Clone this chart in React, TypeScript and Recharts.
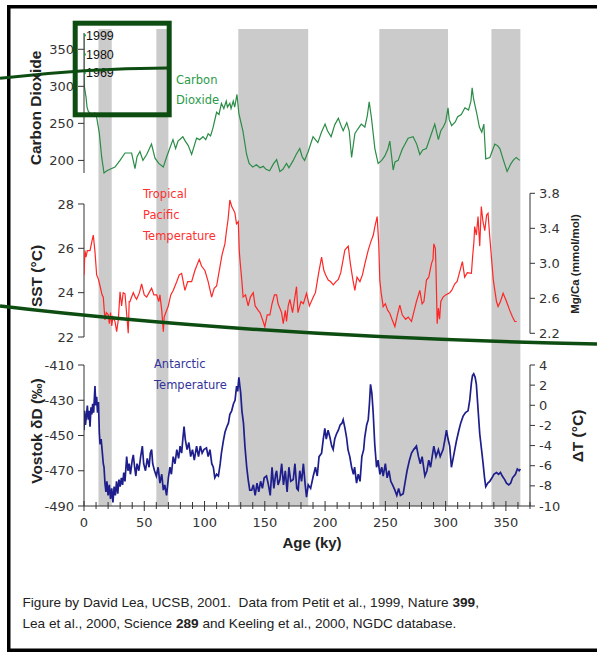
import React from "react";
import {
  LineChart,
  Line,
  XAxis,
  YAxis,
  ReferenceArea,
  ReferenceLine,
  LabelList,
} from "recharts";

// glacial periods, ky before present
const bandFrom = [12, 60, 128, 245, 338];
const bandTo = [23, 70, 186, 302, 362];

const ageTicks = [
  0, 10, 20, 30, 40, 50, 60, 70, 80, 90, 100, 110, 120, 130, 140, 150, 160, 170,
  180, 190, 200, 210, 220, 230, 240, 250, 260, 270, 280, 290, 300, 310, 320, 330,
  340, 350, 360, 370,
];
const co2Ticks = [200, 250, 300, 350];
const sstTicks = [22, 24, 26, 28];
const mgcaTicks = [2.2, 2.6, 3.0, 3.4, 3.8];
const dDTicks = [-490, -470, -450, -430, -410];
const dTTicks = [-10, -8, -6, -4, -2, 0, 2, 4];

// Keeling measurements plotted at age 0
const modernYears = ["1999", "1980", "1969"];
const modernCo2 = [369, 343, 318];

// Vostok CO2 (ky, ppmv)
const co2Record: [number, number][] = [
  [0.3, 300], [1.7, 285], [2.5, 272], [3.6, 266], [6, 262], [9, 264], [10.5, 258],
  [12.7, 237], [14.7, 204], [16.6, 183], [19, 186], [21.6, 188], [25.7, 191],
  [29.9, 200], [34, 210], [39.5, 210], [42.3, 189], [44, 205], [46.4, 212],
  [48.9, 200], [52, 208], [56, 222], [58.9, 203], [62, 196], [65.8, 191],
  [68.6, 205], [73.8, 228], [76, 216], [78, 226], [82, 232], [84, 226],
  [86.5, 220], [89.3, 208], [93.4, 230], [96, 228], [98.7, 232], [101, 228],
  [103, 236], [105, 233], [107, 244], [110, 265], [112, 262], [114, 277],
  [116, 270], [118, 280], [119, 272], [121, 277], [122, 270], [123.8, 280],
  [125, 272], [126.9, 289], [128.5, 263], [131.8, 240], [134.9, 208], [137, 196],
  [140, 191], [143, 194], [146, 190], [148.7, 192], [151, 188], [154, 186],
  [157, 195], [159.8, 201], [162.5, 185], [165, 188], [168, 196], [170, 190],
  [173.6, 200], [176, 208], [179, 216], [181, 205], [183, 200], [186, 212],
  [190, 232], [192, 228], [194, 224], [197, 238], [200, 249], [202, 240],
  [205, 232], [208, 248], [211, 257], [213, 248], [215, 240], [218, 251],
  [220, 240], [222, 204], [224.7, 236], [227, 242], [230, 249], [233, 245],
  [235, 260], [236.6, 279], [238.5, 257], [241.3, 216], [244, 196], [247, 200],
  [249.6, 206], [252, 215], [253.7, 226], [256.5, 187], [258, 198], [260.6, 200],
  [264, 215], [268.9, 230], [273, 232], [276, 222], [278.6, 208], [281, 214],
  [284, 216], [288, 235], [291, 249], [294, 228], [296, 240], [298, 245],
  [300, 252], [302, 271], [303, 255], [305, 247], [308, 252], [310, 259],
  [313, 262], [316, 271], [319, 268], [321, 280], [322, 298], [323, 285],
  [324, 277], [326, 262], [328, 245], [330, 238], [331.7, 249], [333.3, 202],
  [336.7, 204], [340.8, 222], [343, 220], [345, 216], [348, 200], [351, 185],
  [354, 195], [356, 200], [358.5, 204], [361.5, 200],
];

// Tropical Pacific SST from Mg/Ca (ky, degC)
const sstRecord: [number, number][] = [
  [0, 24.8], [0.8, 25.9], [1.6, 25.6], [2.8, 25.9], [5, 25.9], [6.5, 26.3],
  [7.7, 26.6], [9.1, 25.85], [10.5, 24.8], [12, 24.6], [13.3, 24.3], [15, 23.9],
  [16, 23.8], [17.4, 22.77], [18.5, 23.1], [20.2, 23.0], [21, 22.6], [22, 23.1],
  [23, 22.5], [24, 22.9], [25.7, 22.7], [27.1, 22.24], [28.5, 22.8], [29.9, 24.04],
  [31.2, 23.4], [32.5, 24.0], [34, 23.95], [35, 23.3], [36.7, 22.17], [37.5, 23.6],
  [38.1, 23.6], [40.9, 24.0], [42.5, 23.8], [43.7, 23.7], [46, 24.0], [47.8, 24.4],
  [50, 23.9], [52, 23.8], [54, 24.0], [56.1, 24.2], [58, 23.9], [60.3, 23.9],
  [62, 23.6], [63, 23.9], [64.5, 23.2], [65.8, 22.24], [66.5, 22.9], [67.2, 23.0],
  [69.9, 23.4], [72, 23.9], [74, 24.1], [77, 24.5], [79, 24.8], [81, 24.87],
  [83.7, 24.1], [86, 24.5], [89.3, 24.5], [92, 25.0], [95.6, 25.5], [97.5, 25.2],
  [100.3, 25.0], [103, 24.5], [105.9, 23.8], [108, 24.2], [110, 24.3], [112.8, 25.17],
  [114.5, 25.7], [116.9, 26.2], [118, 26.7], [119.5, 27.3], [121, 28.18], [122.5, 27.9],
  [125.2, 27.6], [126.5, 27.1], [128, 27.2], [128.8, 25.9], [129.4, 25.47], [131, 24.5],
  [132, 23.8], [134, 23.9], [136.2, 23.4], [138, 23.8], [140.4, 24.0], [142, 23.4],
  [144.5, 23.2], [146, 23.1], [148, 22.8], [150, 22.46], [152, 23.0], [154.2, 23.0],
  [156, 23.5], [158, 23.9], [159.8, 23.9], [161, 23.5], [162.5, 23.3], [163.9, 23.1],
  [165.3, 22.6], [167, 23.2], [168, 22.7], [169.4, 23.4], [170.8, 23.7], [173, 23.1],
  [176.3, 24.27], [177.5, 23.1], [180, 23.6], [182, 23.5], [184.6, 23.97], [187, 23.4],
  [190.2, 23.8], [192, 24.0], [194.6, 24.87], [197.1, 25.6], [199, 25.0], [200.5, 24.8],
  [202.6, 24.57], [204.5, 24.5], [206.8, 24.35], [209, 24.5], [211, 24.6], [213, 24.9],
  [216.4, 25.92], [219.2, 26.1], [221, 25.3], [223, 24.6], [224.7, 24.1], [226.5, 24.7],
  [228.9, 24.5], [231, 24.8], [233, 25.3], [235.8, 25.92], [238, 26.3], [240, 26.6],
  [241.3, 26.98], [243.2, 27.43], [244.5, 26.2], [245.4, 24.57], [246.5, 24.0], [248.2, 23.37],
  [250, 23.5], [252, 23.2], [253.7, 23.07], [255.5, 22.8], [257.9, 22.47], [260, 23.0],
  [262, 23.44], [264, 23.0], [266.8, 22.8], [269, 22.9], [271.7, 22.7], [273.5, 23.1],
  [275.8, 23.6], [278.6, 24.1], [280.5, 23.5], [282, 23.6], [284.1, 24.57], [286, 24.7],
  [288.3, 25.32], [289.5, 25.5], [290.2, 26.2], [291.5, 26.0], [292, 25.1], [293, 22.6],
  [294, 23.3], [295, 22.8], [296, 23.6], [297.9, 23.8], [300, 23.9], [303.4, 24.0],
  [305, 24.1], [307.6, 24.4], [309.5, 24.5], [311, 24.8], [313.9, 25.4], [315.8, 24.7],
  [318, 24.9], [321.4, 24.87], [322.5, 25.7], [323.5, 26.3], [324.1, 26.98], [325.5, 26.6],
  [326.9, 27.43], [328.3, 26.1], [329.6, 27.88], [331, 27.2], [332.5, 26.8], [334, 27.5],
  [335.2, 27.58], [336.5, 26.6], [338, 25.6], [339.5, 24.6], [340.8, 24.1], [342.2, 23.6],
  [343.5, 23.37], [345.5, 23.6], [347.7, 23.97], [350.5, 23.6], [353.2, 23.2], [355.5, 22.9],
  [357.4, 22.7], [359, 22.7],
];

// Vostok deuterium (ky, permil)
const vostokRecord: [number, number][] = [
  [0, -447], [0.5, -436], [1.2, -444], [2, -439], [2.8, -433], [3.5, -441],
  [4.2, -436], [5, -445], [5.8, -434], [6.5, -438], [7.2, -432], [8, -437],
  [9.1, -422], [9.8, -433], [10.5, -428], [11.2, -437], [12, -431], [12.7, -448],
  [13.3, -455], [14.2, -452], [15, -458], [16, -466], [16.6, -468], [17.4, -477],
  [18.2, -482], [19, -476], [20, -484], [21, -478], [22, -486], [23, -480],
  [24, -488], [25, -479], [26, -484], [27, -476], [28, -483], [29, -475],
  [30, -479], [31, -474], [32, -478], [33, -471], [34, -476], [35.4, -462],
  [36.5, -470], [37.5, -466], [38.5, -472], [40, -464], [40.9, -461], [42, -468],
  [43, -473], [44, -466], [45.5, -470], [47, -462], [48.4, -456], [49.5, -466],
  [51, -470], [52.5, -463], [54, -468], [55, -460], [56.1, -458], [57, -466],
  [58.5, -470], [60, -473], [61.5, -468], [63, -477], [64.5, -472], [65.8, -481],
  [67, -478], [68.5, -484], [70, -474], [71.3, -468], [72.5, -472], [74, -462],
  [75.5, -466], [77, -458], [78.5, -463], [79.7, -456], [81, -460], [82, -452],
  [83, -445], [84, -452], [85.5, -458], [87, -454], [88.5, -462], [90, -458],
  [91.5, -464], [93.4, -456], [95, -462], [96.5, -456], [98, -460], [99.5, -458],
  [101.6, -457], [103, -462], [104.5, -458], [106, -466], [107.3, -468], [108.5, -474],
  [110, -472], [111.5, -473], [113, -466], [114, -460], [115.6, -453], [117, -448],
  [118.5, -445], [119.8, -443], [121, -438], [122.5, -436], [124, -432], [125.3, -430],
  [126.6, -422], [127.5, -425], [128.5, -417], [129.3, -422], [130, -426], [131, -436],
  [132.3, -443], [133.5, -456], [135, -468], [136.2, -475], [137.5, -481], [139.1, -481],
  [140.5, -478], [142, -484], [143.5, -477], [145, -482], [146.5, -476], [148, -480],
  [149.5, -474], [151.4, -473], [153, -478], [154.5, -484], [156, -468], [157.5, -480],
  [159, -472], [159.8, -470], [161, -478], [162.5, -475], [164, -466], [165.5, -478],
  [167, -470], [168.5, -482], [170, -468], [171.5, -476], [173.6, -475], [175, -466],
  [176.5, -480], [177.7, -481], [179, -470], [180.5, -476], [182, -466], [183.5, -478],
  [184.6, -485], [186, -478], [188, -480], [190.2, -473], [192, -468], [193.5, -473],
  [195, -462], [197.1, -460], [198.5, -452], [199.8, -446], [201, -452], [202.5, -447],
  [204, -451], [205.5, -456], [206.7, -458], [208, -452], [209.5, -449], [211, -447],
  [212.5, -444], [214, -443], [215, -441], [216.5, -446], [217.8, -451], [219, -458],
  [220.5, -462], [222, -468], [223.5, -472], [224.5, -468], [226.1, -477], [227.5, -472],
  [229, -476], [230.5, -462], [232, -458], [232.9, -451], [234.5, -444], [235.8, -441],
  [236.8, -432], [237.7, -421], [238.8, -426], [239.9, -437], [241.2, -455], [242.7, -468],
  [244, -464], [245.5, -472], [247, -468], [248.2, -473], [250, -466], [251.5, -474],
  [253, -470], [254.5, -476], [256, -478], [257.9, -481], [259.5, -484], [261, -480],
  [262.5, -484], [264.8, -483], [266.5, -476], [268, -470], [270, -464], [271.7, -460],
  [273.5, -458], [275.8, -456], [277.5, -462], [279, -466], [280.5, -462], [282.8, -473],
  [284.5, -470], [286, -464], [287.5, -468], [290.2, -456], [292, -462], [294, -458],
  [295.5, -462], [297.9, -458], [299.5, -452], [300.7, -447], [302, -452], [303.4, -456],
  [304.8, -468], [306.5, -462], [309, -453], [311, -447], [312.5, -443], [314.5, -439],
  [316.5, -437], [318.6, -436], [320, -430], [321.4, -420], [322.3, -416], [323.3, -415],
  [324.5, -417], [325.5, -421], [327, -436], [328.3, -449], [329.8, -458], [331.1, -466],
  [332.3, -474], [333.3, -479], [335, -477], [336.6, -476], [338.5, -474], [340, -472],
  [342.2, -471], [344, -472], [345.5, -471], [347, -473], [349, -475], [350.5, -477],
  [352.4, -478], [354, -477], [355.5, -474], [357.9, -472], [359.5, -469], [361, -470],
  [362, -469],
];

const W = 597;
const H = 560;
const AXIS_Y = 506;
const AXIS_W = 56;
const FONT = "DejaVu Sans";
const SANS = "Liberation Sans";

const modernData = modernYears.map((year, i) => ({ age: 0, co2: modernCo2[i], year }));
const co2Data = [
  ...modernData.map((d) => ({ age: d.age, co2: d.co2 })),
  ...co2Record.map(([age, co2]) => ({ age, co2 })),
];
const sstData = sstRecord.map(([age, sst]) => ({ age, sst }));
const vostokData = vostokRecord.map(([age, dD]) => ({ age, dD }));

const layer: React.CSSProperties = { position: "absolute", left: 0, top: 0 };
const tickStyle = { fontSize: 13, fill: "#333", fontFamily: FONT };
const axisStroke = { stroke: "#333" };

function AgeTick(props: any) {
  const { x, payload } = props;
  const major = payload.value % 50 === 0;
  return (
    <g>
      <line
        x1={x}
        x2={x}
        y1={AXIS_Y - (major ? 5 : 4)}
        y2={AXIS_Y + (major ? 5 : 3)}
        stroke="#333"
      />
      {major && (
        <text
          x={x}
          y={AXIS_Y + 16}
          textAnchor="middle"
          dominantBaseline="central"
          fontSize={13}
          fontFamily={FONT}
          fill="#333"
        >
          {payload.value}
        </text>
      )}
    </g>
  );
}

function Overlay() {
  const title = { fontFamily: SANS, fontWeight: 700, fill: "#222", textAnchor: "middle" as const, dominantBaseline: "central" as const };
  const note = { fontFamily: FONT, fontSize: 11.5, dominantBaseline: "central" as const };
  const dark = "#0e4d12";
  return (
    <svg width={W} height={655} style={{ ...layer, pointerEvents: "none" }}>
      {/* frame */}
      <rect x={7} y={5} width={3.5} height={647} fill="#000" />
      <rect x={7} y={5} width={590} height={3.5} fill="#000" />
      <rect x={7} y={648.5} width={590} height={3.5} fill="#000" />

      {/* dark green overlay strokes */}
      <rect x={75.2} y={23.2} width={94} height={91.6} fill="none" stroke={dark} strokeWidth={5} />
      <path d="M0,78.3 Q84,68.5 168,68" fill="none" stroke={dark} strokeWidth={3} />
      <path d="M0,306 Q261.5,337 597,344" fill="none" stroke={dark} strokeWidth={3.5} />

      {/* axis titles */}
      <text {...title} fontSize={15.5} x={35} y={108} transform="rotate(-90 35 108)">Carbon Dioxide</text>
      <text {...title} fontSize={15.5} x={36} y={276} transform="rotate(-90 36 276)">SST (°C)</text>
      <text {...title} fontSize={15.5} x={36} y={431} transform="rotate(-90 36 431)">Vostok δD (‰)</text>
      <text {...title} fontSize={11.5} x={575} y={264} transform="rotate(-90 575 264)">Mg/Ca (mmol/mol)</text>
      <text {...title} fontSize={15.5} x={577} y={436} transform="rotate(-90 577 436)">ΔT (°C)</text>
      <text {...title} fontSize={15} x={312} y={542}>Age (ky)</text>

      {/* series notes */}
      <text {...note} fill="#2a9a4a" x={176} y={80}>Carbon</text>
      <text {...note} fill="#2a9a4a" x={176} y={100}>Dioxide</text>
      <text {...note} fill="#ff3030" x={143} y={194}>Tropical</text>
      <text {...note} fill="#ff3030" x={143} y={215}>Pacific</text>
      <text {...note} fill="#ff3030" x={143} y={236}>Temperature</text>
      <text {...note} fill="#333399" x={154} y={364}>Antarctic</text>
      <text {...note} fill="#333399" x={154} y={385}>Temperature</text>

      {/* caption */}
      <text x={22.5} y={607} fontSize={13.6} fontFamily={SANS} fill="#222">
        Figure by David Lea, UCSB, 2001.{"\u00a0 "}Data from Petit et al., 1999, Nature{" "}
        <tspan fontWeight={700}>399</tspan>,
      </text>
      <text x={22.5} y={628} fontSize={13.6} fontFamily={SANS} fill="#222">
        Lea et al., 2000, Science <tspan fontWeight={700}>289</tspan> and Keeling et al., 2000, NGDC database.
      </text>
    </svg>
  );
}

export default function App() {
  return (
    <div style={{ position: "absolute", left: 0, top: 0, width: W, height: 655, background: "#fff", overflow: "hidden" }}>
      {/* glacial bands + age axis */}
      <div style={layer}>
        <LineChart width={W} height={H} data={vostokData} margin={{ top: 29, right: 67, left: 84, bottom: 24 }}>
          <XAxis
            type="number"
            dataKey="age"
            domain={[0, 370]}
            ticks={ageTicks}
            interval={0}
            height={30}
            tickLine={false}
            axisLine={axisStroke}
            tick={AgeTick}
            allowDataOverflow
          />
          <YAxis hide type="number" domain={[0, 1]} allowDataOverflow />
          {bandFrom.map((x1, i) => (
            <ReferenceArea
              key={x1}
              x1={x1}
              x2={bandTo[i]}
              y1={0}
              y2={1}
              fill="#cbcbcb"
              fillOpacity={1}
              stroke="none"
              ifOverflow="visible"
            />
          ))}
        </LineChart>
      </div>

      {/* CO2 */}
      <div style={layer}>
        <LineChart width={W} height={H} data={co2Data} margin={{ top: 33, right: 67, left: 84 - AXIS_W, bottom: H - 173 }}>
          <XAxis hide type="number" dataKey="age" domain={[0, 370]} allowDataOverflow />
          <YAxis
            width={AXIS_W}
            type="number"
            domain={[200, 372]}
            ticks={co2Ticks}
            interval={0}
            tickSize={6}
            tickMargin={4}
            tick={tickStyle}
            axisLine={axisStroke}
            tickLine={axisStroke}
          />
          <Line dataKey="co2" stroke="#2a8c46" strokeWidth={1.2} dot={false} isAnimationActive={false} />
          <Line
            data={modernData}
            dataKey="co2"
            stroke="none"
            dot={{ r: 1.8, fill: "#2a8c46", stroke: "none" }}
            isAnimationActive={false}
          >
            <LabelList dataKey="year" position="right" offset={2} style={{ fontSize: 12.5, fill: "#111", fontFamily: SANS }} />
          </Line>
        </LineChart>
      </div>

      {/* SST */}
      <div style={layer}>
        <LineChart width={W} height={H} data={sstData} margin={{ top: 195.1, right: 67, left: 84 - AXIS_W, bottom: H - 337 }}>
          <XAxis hide type="number" dataKey="age" domain={[0, 370]} allowDataOverflow />
          <YAxis
            width={AXIS_W}
            type="number"
            domain={[22, 28.4]}
            ticks={sstTicks}
            interval={0}
            tickSize={6}
            tickMargin={4}
            tick={tickStyle}
            axisLine={false}
            tickLine={axisStroke}
          />
          <ReferenceLine segment={[{ x: 0, y: 22 }, { x: 0, y: 28 }]} stroke="#333" />
          <Line dataKey="sst" stroke="#ff2626" strokeWidth={1.2} dot={false} isAnimationActive={false} />
        </LineChart>
      </div>

      {/* Mg/Ca axis */}
      <div style={layer}>
        <LineChart width={W} height={H} data={sstData} margin={{ top: 193.3, right: W - 530 - AXIS_W, left: 84, bottom: H - 333.3 }}>
          <XAxis hide type="number" dataKey="age" domain={[0, 370]} allowDataOverflow />
          <YAxis
            orientation="right"
            width={AXIS_W}
            type="number"
            domain={[2.2, 3.8]}
            ticks={mgcaTicks}
            interval={0}
            tickSize={5}
            tickMargin={4}
            tick={tickStyle}
            tickFormatter={(v: number) => v.toFixed(1)}
            axisLine={axisStroke}
            tickLine={axisStroke}
            allowDataOverflow
          />
        </LineChart>
      </div>

      {/* Vostok */}
      <div style={layer}>
        <LineChart width={W} height={H} data={vostokData} margin={{ top: 365, right: W - 530 - AXIS_W, left: 84 - AXIS_W, bottom: H - AXIS_Y }}>
          <XAxis hide type="number" dataKey="age" domain={[0, 370]} allowDataOverflow />
          <YAxis
            width={AXIS_W}
            type="number"
            domain={[-490, -410]}
            ticks={dDTicks}
            interval={0}
            tickSize={6}
            tickMargin={4}
            tick={tickStyle}
            axisLine={axisStroke}
            tickLine={axisStroke}
          />
          <YAxis
            yAxisId="dt"
            orientation="right"
            width={AXIS_W}
            type="number"
            domain={[-10, 4]}
            ticks={dTTicks}
            interval={0}
            tickSize={5}
            tickMargin={4}
            tick={tickStyle}
            axisLine={axisStroke}
            tickLine={axisStroke}
            allowDataOverflow
          />
          <Line dataKey="dD" stroke="#1e1e8c" strokeWidth={1.7} dot={false} isAnimationActive={false} />
        </LineChart>
      </div>

      <Overlay />
    </div>
  );
}
